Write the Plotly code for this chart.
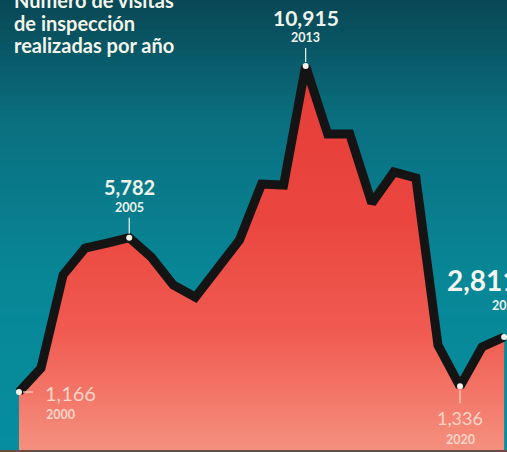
import plotly.graph_objects as go

years = list(range(2000, 2023))
visits = [1166, 1884, 4665, 5472, 5620, 5782, 5200, 4366, 4000, 4845, 5712,
          7386, 7356, 10915, 8881, 8881, 6818, 7745, 7566, 2570, 1336, 2512, 2811]
title_lines = ["Número de visitas", "de inspección", "realizadas por año"]
highlight_years = [2000, 2005, 2013, 2020, 2022]
highlight_labels = ["1,166", "5,782", "10,915", "1,336", "2,811"]

X_MIN, X_MAX = 1999.14, 2022.13
Y_MIN, Y_MAX = -628, 12890
W, H = 507, 452

FONT = "Lato"
CREAM = "#eef3ea"
PINK = "#fcd6c8"

fig = go.Figure()

def lerp(c1, c2, t):
    return tuple(int(round(a + (b - a) * t)) for a, b in zip(c1, c2))

stops = [(0.0, (9, 72, 86)), (0.27, (10, 112, 128)), (0.6, (8, 134, 150)), (1.0, (6, 142, 158))]
N = 90
shapes = []
for i in range(N):
    t = i / (N - 1)
    for j in range(len(stops) - 1):
        if stops[j][0] <= t <= stops[j + 1][0]:
            tt = (t - stops[j][0]) / (stops[j + 1][0] - stops[j][0])
            c = lerp(stops[j][1], stops[j + 1][1], tt)
            break
    y1 = 1 - i / N
    y0 = 1 - (i + 1) / N - 0.002
    shapes.append(dict(type="rect", xref="paper", yref="paper", x0=0, x1=1, y0=max(y0, 0), y1=y1,
                       fillcolor="rgb(%d,%d,%d)" % c, line_width=0, layer="below"))

fig.add_trace(go.Scatter(x=years, y=[Y_MIN] * len(years), mode="lines",
                         line=dict(width=0, color="rgba(0,0,0,0)"), hoverinfo="skip", showlegend=False))
fig.add_trace(go.Scatter(
    x=years, y=visits, mode="lines", fill="tonexty",
    fillgradient=dict(type="vertical", start=Y_MIN, stop=10915,
                      colorscale=[[0, "#f5917f"], [0.3, "#f05c52"], [0.6, "#ea463f"], [1, "#e63c39"]]),
    line=dict(color="#141414", width=9, shape="linear"),
    showlegend=False, hoverinfo="skip"))

hv = [visits[years.index(y)] for y in highlight_years]
fig.add_trace(go.Scatter(x=highlight_years, y=hv, mode="markers",
                         marker=dict(color="#f4f1ea", size=6), showlegend=False, hoverinfo="skip"))

def tick(xv, yv, x0, y0, x1, y1, color):
    shapes.append(dict(type="line", xref="x", yref="y", xsizemode="pixel", ysizemode="pixel",
                       xanchor=xv, yanchor=yv, x0=x0, x1=x1, y0=y0, y1=y1,
                       line=dict(color=color, width=1.2), layer="above"))

tick(2000, visits[0], 4, 0, 14, 0, PINK)
tick(2005, visits[5], 0, 4, 0, 20, CREAM)
tick(2013, visits[13], 0, 4, 0, 18, CREAM)
tick(2020, visits[20], 0, -4, 0, -17, PINK)

shapes.append(dict(type="line", xref="paper", yref="paper", x0=0, x1=1, y0=0.002, y1=0.002,
                   line=dict(color="#6b4a44", width=2), layer="above"))

ann = []
def label(xv, yv, text, size, color, xanchor, xs, ys, bold=True):
    ann.append(dict(x=xv, y=yv, xref="x", yref="y", text=("<b>%s</b>" % text) if bold else text,
                    showarrow=False, xanchor=xanchor, yanchor="middle", xshift=xs, yshift=ys,
                    font=dict(family=FONT, size=size, color=color)))

label(2000, visits[0], highlight_labels[0], 20, PINK, "left", 24, -1, bold=False)
label(2000, visits[0], "2000", 12.5, PINK, "left", 25, -22)
label(2005, visits[5], highlight_labels[1], 20, CREAM, "center", 0, 51)
label(2005, visits[5], "2005", 12.5, CREAM, "center", 0, 30)
label(2013, visits[13], highlight_labels[2], 21, CREAM, "center", 0, 49)
label(2013, visits[13], "2013", 12.5, CREAM, "center", 0, 29)
label(2020, visits[20], highlight_labels[3], 18, PINK, "center", 0, -32, bold=False)
label(2020, visits[20], "2020", 12.5, PINK, "center", 0, -53)
label(2022, visits[22], highlight_labels[4], 28, "#f6f8f0", "left", -59, 57)
label(2022, visits[22], "2022", 12.5, CREAM, "left", -14, 32)

for i, line in enumerate(title_lines):
    ann.append(dict(x=12 / W, y=(H - 14 - i * 22.5) / H, xref="paper", yref="paper",
                    text="<b>%s</b>" % line, showarrow=False, xanchor="left", yanchor="bottom",
                    font=dict(family=FONT, size=20, color="#f4f5ea")))

fig.update_layout(
    width=W, height=H, margin=dict(l=0, r=0, t=0, b=0),
    paper_bgcolor="#0a7080", plot_bgcolor="rgba(0,0,0,0)",
    xaxis=dict(range=[X_MIN, X_MAX], visible=False, fixedrange=True),
    yaxis=dict(range=[Y_MIN, Y_MAX], visible=False, fixedrange=True),
    shapes=shapes, annotations=ann, showlegend=False,
)

fig.write_html("out.html", include_plotlyjs=True, config={"displayModeBar": False},
               post_script="document.body.style.margin='0';document.body.style.overflow='hidden';")
